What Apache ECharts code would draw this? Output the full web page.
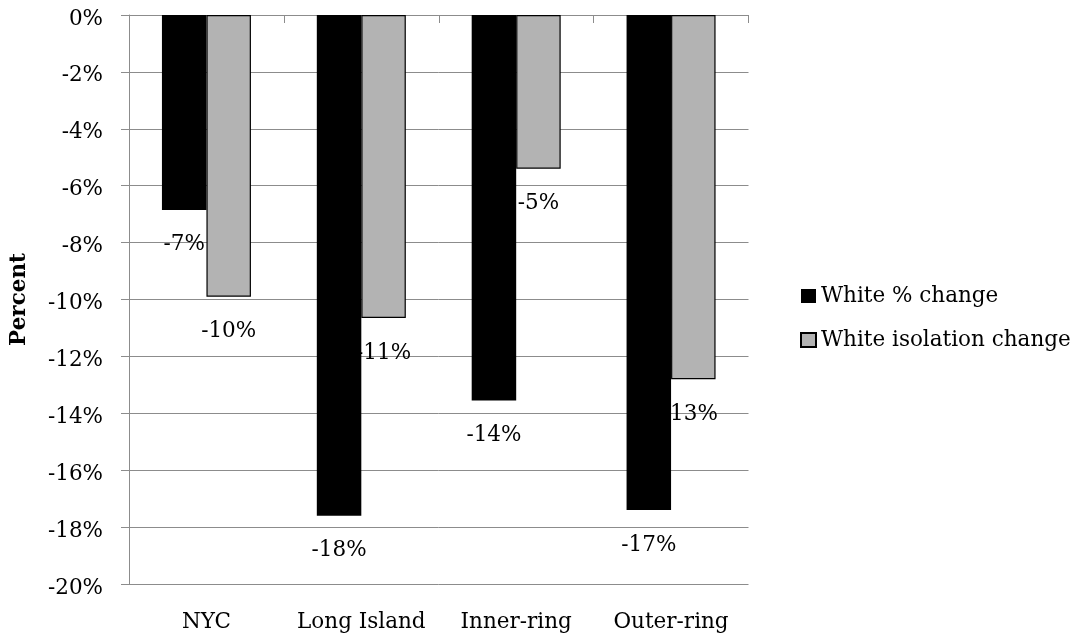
<!DOCTYPE html>
<html>
<head>
<meta charset="utf-8">
<script src="https://cdn.jsdelivr.net/npm/echarts@6/dist/echarts.min.js"></script>
<style>html,body{margin:0;padding:0;background:#fff}#c{width:1082px;height:637px}</style>
</head>
<body>
<div id="c"></div>
<script>
var categories = ['NYC', 'Long Island', 'Inner-ring', 'Outer-ring'];
var whitePctChange = [-6.85, -17.6, -13.55, -17.4];
var whiteIsolationChange = [-9.9, -10.65, -5.4, -12.8];
var seriesNames = ['White % change', 'White isolation change'];

var FONT = 'DejaVu Serif';
var FS = 21.5;
var chart = echarts.init(document.getElementById('c'), null, {renderer: 'canvas'});
function fmt(p) { return Number(p.value).toFixed(0) + '%'; }
function lbl() {
  return {show: true, position: 'bottom', distance: 24,
    color: '#000', fontFamily: FONT, fontSize: FS, formatter: fmt};
}
var option = {
  animation: false,
  backgroundColor: '#fff',
  grid: {left: 128.5, right: 333.5, top: 15, bottom: 53, containLabel: false},
  legend: {
    orient: 'vertical', left: 795, top: 280, icon: 'rect',
    itemWidth: 15, itemHeight: 14, itemGap: 22,
    textStyle: {fontFamily: FONT, fontSize: FS, color: '#000', lineHeight: 21},
    data: seriesNames
  },
  xAxis: [{
    type: 'category', data: categories, position: 'top',
    axisLine: {onZero: false, lineStyle: {color: '#8c8c8c', width: 1}},
    axisTick: {show: true, inside: true, length: 8, lineStyle: {color: '#8c8c8c'}},
    axisLabel: {show: false}, splitLine: {show: false}
  }, {
    type: 'category', data: categories, position: 'bottom',
    axisLine: {show: false}, axisTick: {show: false},
    axisLabel: {show: true, interval: 0, margin: 27, color: '#000', fontFamily: FONT, fontSize: FS}
  }],
  yAxis: {
    type: 'value', min: -20, max: 0, interval: 2,
    name: 'Percent', nameLocation: 'middle', nameGap: 99,
    nameTextStyle: {fontFamily: FONT, fontSize: FS, fontWeight: 'bold', color: '#000'},
    axisLine: {show: true, lineStyle: {color: '#8c8c8c', width: 1}},
    axisTick: {show: true, length: 8, lineStyle: {color: '#8c8c8c'}},
    axisLabel: {margin: 26, color: '#000', fontFamily: FONT, fontSize: FS,
      verticalAlign: 'top', lineHeight: 8,
      formatter: function (v) { return v + '%'; }},
    splitLine: {show: true, lineStyle: {color: '#8c8c8c', width: 1}}
  },
  series: [{
    name: seriesNames[0], type: 'bar', xAxisIndex: 0, barWidth: 44.5, barGap: '0%',
    itemStyle: {color: '#000'},
    label: lbl(),
    data: whitePctChange
  }, {
    name: seriesNames[1], type: 'bar', xAxisIndex: 0, barWidth: 44.5, barGap: '0%',
    itemStyle: {color: '#b3b3b3', borderColor: '#000', borderWidth: 1.2},
    label: lbl(),
    data: whiteIsolationChange.map(function (v, i) {
      return i === 3 ? {value: v, label: {offset: [-3, 0]}} : v;
    })
  }]
};
chart.setOption(option);
</script>
</body>
</html>
